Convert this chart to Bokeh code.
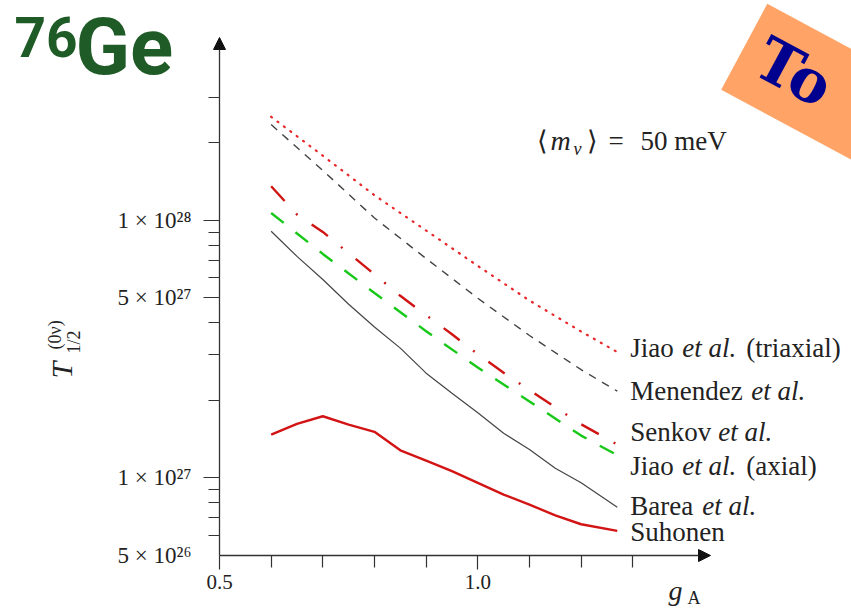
import math
from bokeh.plotting import figure
from bokeh.models import (Range1d, FixedTicker, CustomJSTickFormatter, Arrow, LogAxis,
                          NormalHead, Label, PolyAnnotation, ColumnDataSource)
from bokeh.core.properties import value
from bokeh.embed import file_html
from bokeh.resources import INLINE

# ---------------- data ----------------
ga_fine = [0.60, 0.65, 0.70, 0.75, 0.80, 0.85, 0.90, 0.95, 1.00, 1.05, 1.10, 1.15, 1.20, 1.27]
ga_coarse = [0.60, 0.70, 0.80, 0.90, 1.00, 1.10, 1.20, 1.27]

jiao_triaxial = [2.52e28, 1.78e28, 1.25e28, 9.12e27, 6.65e27, 4.88e27, 3.70e27, 3.08e27]
menendez = [2.35e28, 1.56e28, 1.02e28, 7.10e27, 4.98e27, 3.57e27, 2.63e27, 2.17e27]
jiao_axial = [1.067e28, 7.40e27, 5.22e27, 3.71e27, 2.68e27, 1.98e27, 1.46e27, 1.225e27]
senkov = [1.355e28, 1.052e28, 9.01e27, 7.45e27, 6.17e27, 5.09e27, 4.28e27, 3.61e27,
          3.02e27, 2.56e27, 2.19e27, 1.88e27, 1.616e27, 1.348e27]
barea = [9.06e27, 7.24e27, 5.89e27, 4.72e27, 3.85e27, 3.19e27, 2.55e27, 2.13e27,
         1.79e27, 1.49e27, 1.29e27, 1.09e27, 9.57e26, 7.70e26]
suhonen = [1.473e27, 1.62e27, 1.735e27, 1.61e27, 1.51e27, 1.28e27, 1.168e27, 1.062e27,
           9.56e26, 8.62e26, 7.88e26, 7.15e26, 6.61e26, 6.23e26]

y_major_ticks = [1e27, 5e27, 1e28]
y_bottom_tick = [5e26]
y_minor_ticks = [6e26, 7e26, 8e26, 9e26, 2e27, 3e27, 4e27, 6e27, 7e27, 8e27, 9e27, 2e28, 3e28]
x_major_ticks = [0.5, 1.0]
x_minor_ticks = [0.6, 0.7, 0.8, 0.9, 1.1, 1.2, 1.3]

label_first = ["Jiao", "Menendez", "Senkov", "Jiao", "Barea", "Suhonen"]
label_italic = ["et al.", "et al.", "et al.", "et al.", "et al.", ""]
label_last = ["(triaxial)", "", "", "(axial)", "", ""]

# ---------------- geometry ----------------
W, H = 851, 609
ORIGIN_X, ORIGIN_Y = 219, 555         # pixel position of (0.5, 5e26)
X0, PPX = 0.5, 516.6                  # pixels per unit of g_A
LOG0, PPD = math.log10(5e26), 257.7   # pixels per decade


def X(px):
    return X0 + (px - ORIGIN_X) / PPX


def Y(py):
    return 10 ** (LOG0 + (ORIGIN_Y - py) / PPD)


AX = "#333333"
TXT = "#222222"
SERIF = "Liberation Serif"
FIX = 0.37   # baseline correction, in em

p = figure(width=W, height=H, y_axis_type="log",
           x_range=Range1d(X(0), X(W)), y_range=Range1d(Y(H), Y(0)),
           output_backend="svg", toolbar_location=None,
           min_border_left=0, min_border_right=0, min_border_top=0,
           min_border_bottom=0)
p.outline_line_color = None
p.grid.visible = False
p.background_fill_color = "white"

fmt_code = """
const e = Math.floor(Math.log10(tick) + 1e-9);
const m = Math.round(tick / Math.pow(10, e));
const sup = {"0":"\u2070","1":"\u00b9","2":"\u00b2","3":"\u00b3","4":"\u2074",
             "5":"\u2075","6":"\u2076","7":"\u2077","8":"\u2078","9":"\u2079"};
return m + " \u00d7 10" + String(e).split("").map(c => sup[c]).join("");
"""


def style_y(axis):
    axis.fixed_location = X0
    axis.formatter = CustomJSTickFormatter(code=fmt_code)
    axis.axis_line_color = None
    axis.major_tick_out = 16
    axis.major_tick_in = 0
    axis.minor_tick_out = 11
    axis.minor_tick_in = 0
    axis.major_tick_line_color = AX
    axis.minor_tick_line_color = AX
    axis.major_tick_line_width = 1.2
    axis.minor_tick_line_width = 1.2
    axis.major_label_standoff = 12
    axis.major_label_text_font = SERIF
    axis.major_label_text_font_size = "23px"
    axis.major_label_text_color = TXT


# y axis, pinned at g_A = 0.5
ya = p.yaxis[0]
style_y(ya)
ya.ticker = FixedTicker(ticks=y_major_ticks, minor_ticks=y_minor_ticks)

# label for the bottom decade value (no tick mark, it sits on the g_A axis)
ya2 = LogAxis()
style_y(ya2)
ya2.ticker = FixedTicker(ticks=y_bottom_tick, minor_ticks=[])
ya2.major_tick_line_color = None
ya2.minor_tick_line_color = None
p.add_layout(ya2, "left")

# x axis, pinned at 5e26
xa = p.xaxis[0]
xa.fixed_location = 5e26
xa.ticker = FixedTicker(ticks=x_major_ticks, minor_ticks=x_minor_ticks)
xa.formatter = CustomJSTickFormatter(code="return tick.toFixed(1);")
xa.axis_line_color = None
xa.major_tick_out = 14
xa.major_tick_in = 0
xa.minor_tick_out = 12
xa.minor_tick_in = 0
xa.major_tick_line_color = AX
xa.minor_tick_line_color = AX
xa.major_tick_line_width = 1.2
xa.minor_tick_line_width = 1.2
xa.major_label_standoff = 5
xa.major_label_text_font = SERIF
xa.major_label_text_font_size = "21px"
xa.major_label_text_color = TXT

# axis arrows
p.add_layout(Arrow(x_start=X0, y_start=5e26, x_end=X0, y_end=Y(37),
                   line_color=AX, line_width=1.3,
                   end=NormalHead(size=12, fill_color="#111111", line_color="#111111")))
p.add_layout(Arrow(x_start=X0, y_start=5e26, x_end=X(710), y_end=5e26,
                   line_color=AX, line_width=1.3,
                   end=NormalHead(size=12, fill_color="#111111", line_color="#111111")))

# ---------------- curves ----------------
p.line(ga_coarse, jiao_triaxial, line_color="#e8262a", line_width=2.2,
       line_dash="1 7", line_cap="round")
p.line(ga_coarse, menendez, line_color="#444444", line_width=1.4, line_dash="8 7")
p.line(ga_fine, senkov, line_color="#d01414", line_width=2.4, line_dash="20 17 2 17")
p.line(ga_coarse, jiao_axial, line_color="#18c818", line_width=2.4, line_dash="16 15")
p.line(ga_fine, barea, line_color="#444444", line_width=1.2)
p.line(ga_fine, suhonen, line_color="#d31414", line_width=2.4)

# ---------------- curve labels ----------------
ends_y = [jiao_triaxial[-1], menendez[-1], senkov[-1], jiao_axial[-1], barea[-1], suhonen[-1]]
ends_x = [ga_coarse[-1], ga_coarse[-1], ga_fine[-1], ga_coarse[-1], ga_fine[-1], ga_fine[-1]]
dy = [d - 10 for d in (6, 10, -3, 21, 9, 11)]
src = ColumnDataSource(dict(
    x=ends_x, y=ends_y, t1=label_first, t2=label_italic, t3=label_last,
    dy=dy, o1=[13] * 6, o2=[65, 134, 101, 65, 85, 0], o3=[129, 0, 0, 129, 0, 0]))
common = dict(source=src, text_font=value(SERIF), text_font_size="27px",
              text_color=TXT, text_baseline="alphabetic", text_align="left", y_offset="dy")
p.text(x="x", y="y", text="t1", x_offset="o1", **common)
p.text(x="x", y="y", text="t2", x_offset="o2", text_font_style="italic", **common)
p.text(x="x", y="y", text="t3", x_offset="o3", **common)


def lab(text, px, py, size, font=SERIF, style="normal", color=TXT, angle=0.0,
        align="left", baseline="alphabetic", fix=FIX):
    # (px, py): wanted baseline start in pixels; corrected along the text's "down" direction
    d = fix * size
    px = px - d * math.sin(angle)
    py = py - d * math.cos(angle)
    p.add_layout(Label(x=X(px), y=Y(py), text=text, text_font=font,
                       text_font_size=f"{size}px", text_font_style=style,
                       text_color=color, angle=angle, text_align=align,
                       text_baseline=baseline))


# <m_nu> = 50 meV
lab("\u27e8", 536, 150, 27)
lab("m", 550, 150, 28, style="italic")
lab("\u03bd", 573, 155, 18, style="italic")
lab("\u27e9", 586, 150, 27)
lab("=", 608, 150, 27)
lab("50 meV", 640, 150, 27)

# axis titles
lab("g", 668, 600, 28, style="italic")
lab("A", 687, 604, 18)
lab("T", 72, 378, 30, style="italic", angle=math.pi / 2)
lab("(0\u03bd)", 61, 349, 18, angle=math.pi / 2)
lab("1/2", 80, 353, 18, angle=math.pi / 2)

# slide title
GREEN = "#1f5b26"
lab("76", 14, 58, 55, font="Roboto", style="bold", color=GREEN, fix=0.39)
lab("Ge", 75, 78, 80, font="Roboto", style="bold", color=GREEN, fix=0.39)

# rotated banner
th = math.radians(28.2)
ux, uy = math.cos(th), math.sin(th)
vx, vy = math.sin(th), -math.cos(th)
ax_, ay_ = 720.7, 89.3
hgt, lng = 97.5, 320
corners = [(ax_, ay_), (ax_ + hgt * vx, ay_ + hgt * vy),
           (ax_ + hgt * vx + lng * ux, ay_ + hgt * vy + lng * uy),
           (ax_ + lng * ux, ay_ + lng * uy)]
p.add_layout(PolyAnnotation(xs=[X(c[0]) for c in corners], ys=[Y(c[1]) for c in corners],
                            fill_color="#ffa466", fill_alpha=1.0, line_color=None))
tx = ax_ + 50 * vx + 17 * ux
ty = ay_ + 50 * vy + 17 * uy
lab("To", tx, ty, 60, font="DejaVu Serif", style="bold", color="#00008f",
    angle=-th, baseline="middle", fix=0.0)

open("out.html", "w").write(file_html(p, INLINE))
